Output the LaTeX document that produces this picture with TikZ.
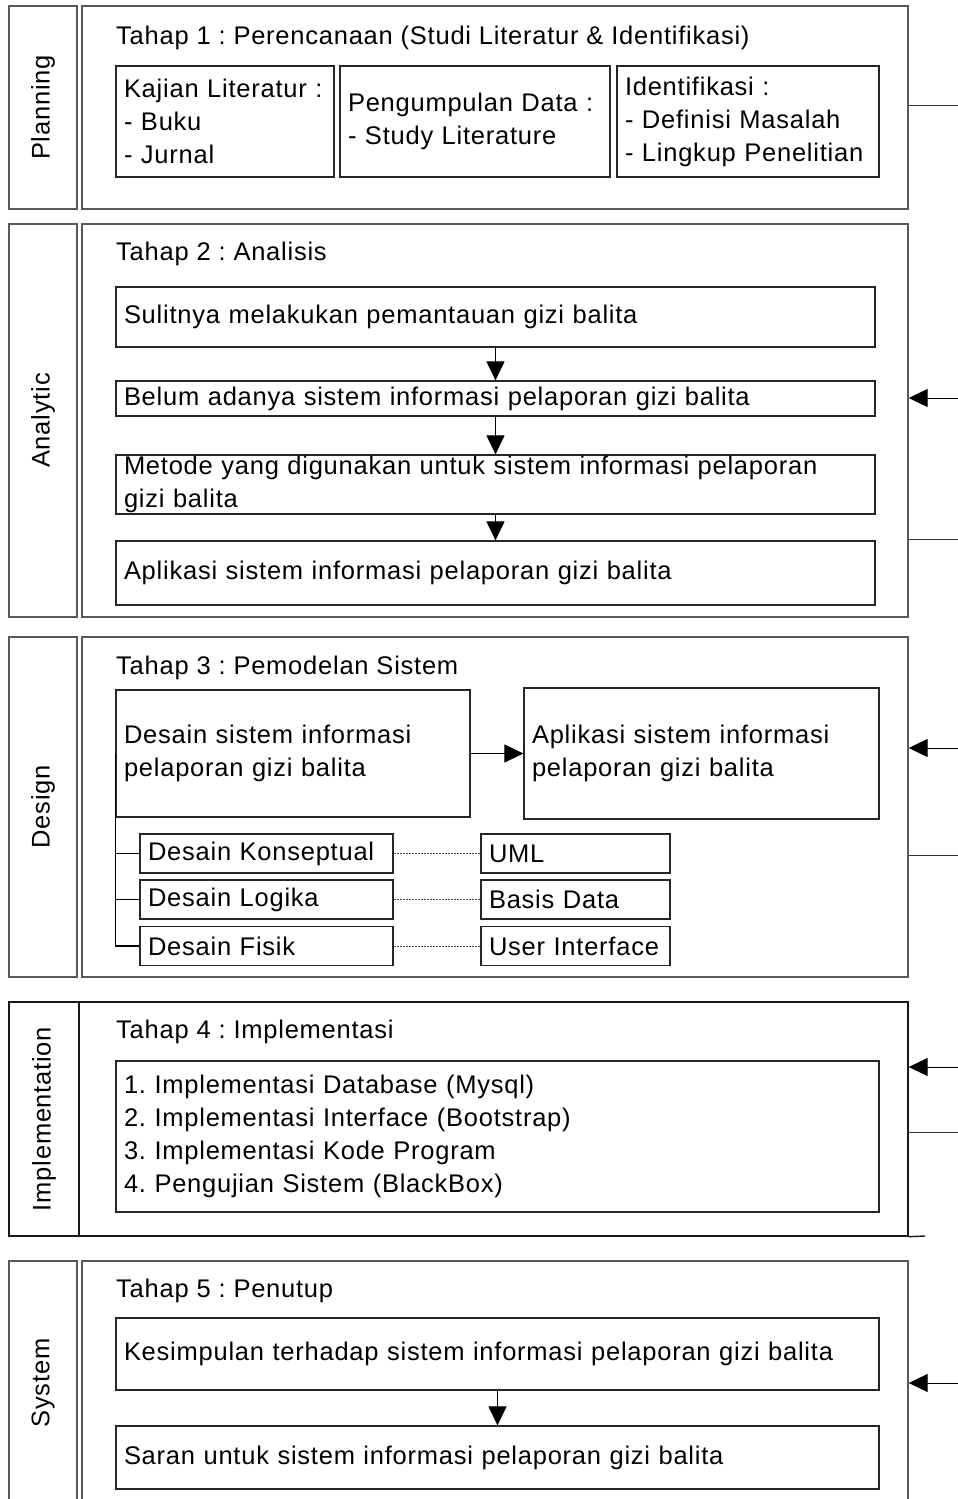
\documentclass[tikz,border=0pt]{standalone}
\usepackage{fontspec}
\setmainfont{Liberation Sans}[LetterSpace=3]
\frenchspacing
\usetikzlibrary{arrows.meta}
\begin{document}
\begin{tikzpicture}[x=1pt,y=-1pt,
  font=\fontsize{25.5}{33}\selectfont,
  frame/.style={draw=black!65, line width=1.4pt, rectangle, inner sep=0pt},
  lab/.style={frame, rotate=90},
  box/.style={draw=black!85, line width=1.2pt, rectangle, inner xsep=8pt, inner ysep=0pt, align=left},
  ttl/.style={anchor=base west, inner sep=0pt},
  flow/.style={draw=black, line width=1pt, -{Triangle[length=19pt,width=18pt]}},
  side/.style={draw=black!80, line width=1pt},
  guide/.style={draw=black!70, line width=0.8pt, dash pattern=on 2pt off 1pt},
  tree/.style={draw=black, line width=1.2pt}]
\useasboundingbox (0,0) rectangle (958,1499);
\clip (0,0) rectangle (958,1499);

% ---------- Tahap 1 ----------
\node[lab, minimum width=203pt, minimum height=68pt] (lab1) at (43,107.5) {Planning};
\node[frame, minimum width=826pt, minimum height=203pt] (stg1) at (495,107.5) {};
\node[ttl] (ttl1) at (116,44) {Tahap 1 : Perencanaan (Studi Literatur \& Identifikasi)};
\node[box, minimum width=218pt, minimum height=111pt, text width=202pt] (k1) at (225,121.5)
  {Kajian Literatur :\\- Buku\\- Jurnal};
\node[box, minimum width=270pt, minimum height=111pt, text width=254pt] (k2) at (475,121.5)
  {Pengumpulan Data :\\- Study Literature};
\node[box, minimum width=262pt, minimum height=111pt, text width=246pt] (k3) at (748,121.5)
  {Identifikasi :\\- Definisi Masalah\\- Lingkup Penelitian};
\coordinate (r1) at (958,105);
\draw[side] (r1 -| stg1.east) -- (r1);

% ---------- Tahap 2 ----------
\node[lab, minimum width=393pt, minimum height=68pt] (lab2) at (43,420.5) {Analytic};
\node[frame, minimum width=826pt, minimum height=393pt] (stg2) at (495,420.5) {};
\node[ttl] (ttl2) at (116,260) {Tahap 2 : Analisis};
\node[box, minimum width=759pt, minimum height=60pt, text width=743pt] (a1) at (495.5,317)
  {Sulitnya melakukan pemantauan gizi balita};
\node[box, minimum width=759pt, minimum height=35pt, text width=743pt] (a2) at (495.5,398.5)
  {Belum adanya sistem informasi pelaporan gizi balita};
\node[box, minimum width=759pt, minimum height=59pt, text width=743pt] (a3) at (495.5,484.5)
  {Metode yang digunakan untuk sistem informasi pelaporan\\gizi balita};
\node[box, minimum width=759pt, minimum height=64pt, text width=743pt] (a4) at (495.5,573)
  {Aplikasi sistem informasi pelaporan gizi balita};
\draw[flow] (a1) -- (a2);
\draw[flow] (a2) -- (a3);
\draw[flow] (a3) -- (a4);
\coordinate (r2a) at (958,398);
\coordinate (r2b) at (958,539);
\draw[flow] (r2a) -- (r2a -| stg2.east);
\draw[side] (r2b -| stg2.east) -- (r2b);

% ---------- Tahap 3 ----------
\node[lab, minimum width=340pt, minimum height=68pt] (lab3) at (43,807) {Design};
\node[frame, minimum width=826pt, minimum height=340pt] (stg3) at (495,807) {};
\node[ttl] (ttl3) at (116,674) {Tahap 3 : Pemodelan Sistem};
\node[box, minimum width=354pt, minimum height=127pt, text width=338pt] (d1) at (293,753.5)
  {Desain sistem informasi\\pelaporan gizi balita};
\node[box, minimum width=355pt, minimum height=131pt, text width=339pt] (d2) at (701.5,753.5)
  {Aplikasi sistem informasi\\pelaporan gizi balita};
\draw[flow] (d1) -- (d2);
\node[box, minimum width=253pt, minimum height=39pt, text width=237pt] (s1) at (266.5,853.5) {Desain Konseptual};
\node[box, minimum width=253pt, minimum height=39pt, text width=237pt] (s2) at (266.5,899.5) {Desain Logika};
\node[box, minimum width=253pt, minimum height=39pt, text width=237pt] (s3) at (266.5,946) {Desain Fisik};
\node[box, minimum width=189pt, minimum height=39pt, text width=173pt] (u1) at (575.5,853.5) {UML};
\node[box, minimum width=189pt, minimum height=39pt, text width=173pt] (u2) at (575.5,899.5) {Basis Data};
\node[box, minimum width=189pt, minimum height=39pt, text width=173pt] (u3) at (575.5,946) {User Interface};
\draw[guide] (s1) -- (u1);
\draw[guide] (s2) -- (u2);
\draw[guide] (s3) -- (u3);
\draw[tree] (d1.west) -- (d1.west |- s3.west) -- (s3.west);
\draw[tree] (d1.west |- s1.west) -- (s1.west);
\draw[tree] (d1.west |- s2.west) -- (s2.west);
\coordinate (r3a) at (958,748);
\coordinate (r3b) at (958,855);
\draw[flow] (r3a) -- (r3a -| stg3.east);
\draw[side] (r3b -| stg3.east) -- (r3b);

% ---------- Tahap 4 ----------
\node[frame, draw=black!90, minimum width=234pt, minimum height=70pt, rotate=90] (lab4) at (44,1119) {Implementation};
\node[frame, draw=black!90, minimum width=829pt, minimum height=234pt] (stg4) at (493.5,1119) {};
\coordinate (e4) at (925,1236);
\draw[frame, draw=black!90] (stg4.south east) -- (e4);
\node[ttl] (ttl4) at (116,1038) {Tahap 4 : Implementasi};
\node[box, minimum width=763pt, minimum height=151pt, text width=747pt] (i1) at (497.5,1136.5)
  {1. Implementasi Database (Mysql)\\2. Implementasi Interface (Bootstrap)\\3. Implementasi Kode Program\\4. Pengujian Sistem (BlackBox)};
\coordinate (r4a) at (958,1067);
\coordinate (r4b) at (958,1132);
\draw[flow] (r4a) -- (r4a -| stg4.east);
\draw[side] (r4b -| stg4.east) -- (r4b);

% ---------- Tahap 5 ----------
\node[lab, minimum width=244pt, minimum height=68pt] (lab5) at (43,1383) {System};
\node[frame, minimum width=826pt, minimum height=244pt] (stg5) at (495,1383) {};
\node[ttl] (ttl5) at (116,1297) {Tahap 5 : Penutup};
\node[box, minimum width=763pt, minimum height=72pt, text width=747pt] (t1) at (497.5,1354)
  {Kesimpulan terhadap sistem informasi pelaporan gizi balita};
\node[box, minimum width=763pt, minimum height=63pt, text width=747pt] (t2) at (497.5,1457.5)
  {Saran untuk sistem informasi pelaporan gizi balita};
\draw[flow] (t1) -- (t2);
\coordinate (r5a) at (958,1383);
\draw[flow] (r5a) -- (r5a -| stg5.east);
\end{tikzpicture}
\end{document}
